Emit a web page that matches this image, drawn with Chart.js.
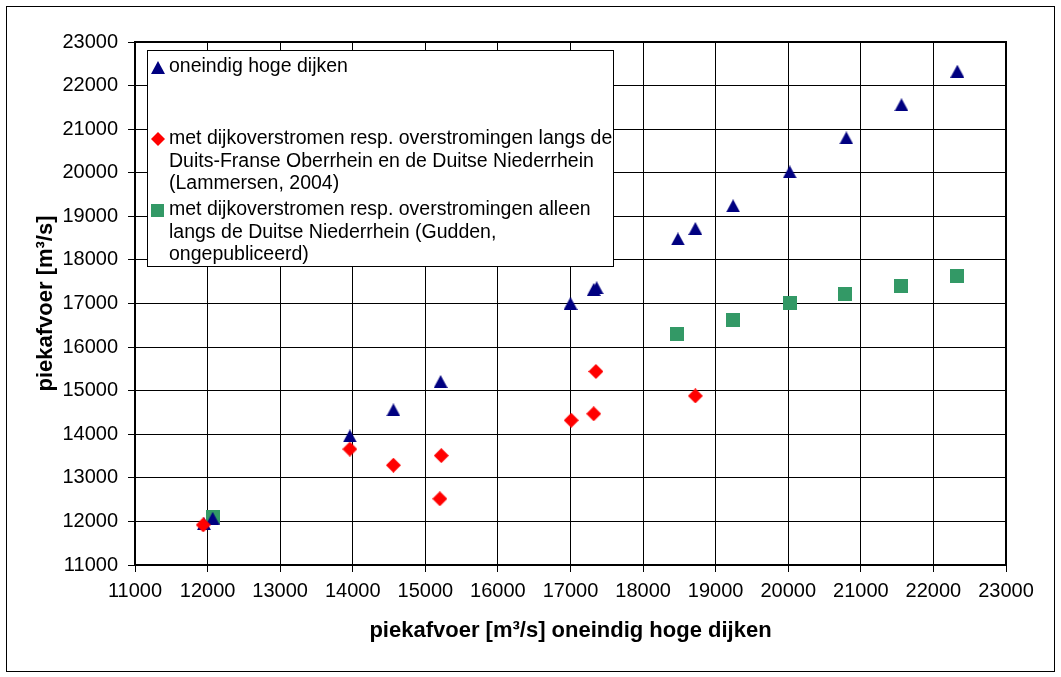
<!DOCTYPE html>
<html>
<head>
<meta charset="utf-8">
<script src="https://cdn.jsdelivr.net/npm/chart.js@4.4.1/dist/chart.umd.min.js"></script>
<style>
    html, body { margin: 0; padding: 0; background: #fff; }
    canvas { display: block; }
</style>
</head>
<body>
<canvas id="chart" width="1061" height="677"></canvas>
<script>
// axis range
const axisMin = 11000;
const axisMax = 23000;
const axisStep = 1000;

// oneindig hoge dijken
const blueX = [11950, 12070, 13960, 14560, 15210, 17000, 17320, 17360, 18480, 18720, 19240, 20020, 20800, 21560, 22330];
const blueY = [11950, 12070, 13960, 14560, 15210, 17000, 17320, 17360, 18480, 18720, 19240, 20020, 20800, 21560, 22330];

// Lammersen, 2004
const redX = [11940, 13960, 14560, 15220, 15200, 17010, 17320, 17350, 18720];
const redY = [11920, 13660, 13290, 13510, 12520, 14320, 14470, 15440, 14880];

// Gudden, ongepubliceerd
const greenX = [12070, 18470, 19240, 20020, 20780, 21560, 22330];
const greenY = [12090, 16300, 16620, 17010, 17220, 17410, 17620];

const blueLabel = ['oneindig hoge dijken'];
const redLabel = [
    'met dijkoverstromen resp. overstromingen langs de',
    'Duits-Franse Oberrhein en de Duitse Niederrhein',
    '(Lammersen, 2004)'
];
const greenLabel = [
    'met dijkoverstromen resp. overstromingen alleen',
    'langs de Duitse Niederrhein (Gudden,',
    'ongepubliceerd)'
];

const xTitle = 'piekafvoer [m³/s] oneindig hoge dijken';
const yTitle = 'piekafvoer [m³/s]';

const FONT = '"Liberation Sans", Arial, sans-serif';
const BLUE = '#000080';
const RED = '#ff0000';
const GREEN = '#339966';

function toPoints(xs, ys) {
    return xs.map((x, i) => ({ x: x, y: ys[i] }));
}

// Excel-like markers, centred on their bounding box
function makeMarker(shape, w, h, color) {
    const c = document.createElement('canvas');
    c.width = w;
    c.height = h;
    const g = c.getContext('2d');
    g.fillStyle = color;
    g.beginPath();
    if (shape === 'triangle') {
        g.moveTo(w / 2, 0);
        g.lineTo(w, h);
        g.lineTo(0, h);
    } else if (shape === 'diamond') {
        g.moveTo(w / 2, 0);
        g.lineTo(w, h / 2);
        g.lineTo(w / 2, h);
        g.lineTo(0, h / 2);
    } else {
        g.rect(0, 0, w, h);
    }
    g.closePath();
    g.fill();
    return c;
}

const triMarker = makeMarker('triangle', 14, 13, BLUE);
const diaMarker = makeMarker('diamond', 15, 15, RED);
const sqMarker = makeMarker('square', 14, 14, GREEN);

const pageFrame = {
    id: 'pageFrame',
    beforeDraw(chart) {
        const ctx = chart.ctx;
        ctx.save();
        ctx.fillStyle = '#fff';
        ctx.fillRect(0, 0, chart.width, chart.height);
        ctx.strokeStyle = '#000';
        ctx.lineWidth = 1;
        ctx.strokeRect(6.5, 6.5, 1048, 665);
        ctx.restore();
    }
};

const plotFrame = {
    id: 'plotFrame',
    beforeDatasetsDraw(chart) {
        const a = chart.chartArea;
        const ctx = chart.ctx;
        ctx.save();
        ctx.strokeStyle = '#000';
        ctx.lineWidth = 2;
        ctx.strokeRect(a.left, a.top, a.right - a.left, a.bottom - a.top);
        ctx.restore();
    }
};

const boxLegend = {
    id: 'boxLegend',
    afterDatasetsDraw(chart) {
        const ctx = chart.ctx;
        ctx.save();
        ctx.fillStyle = '#fff';
        ctx.fillRect(147, 50, 466, 216);
        ctx.strokeStyle = '#000';
        ctx.lineWidth = 1;
        ctx.strokeRect(147.5, 50.5, 466, 216);

        const entries = [
            { marker: makeMarker('triangle', 14, 13, BLUE), lines: blueLabel, y: 67 },
            { marker: makeMarker('diamond', 14, 14, RED), lines: redLabel, y: 139 },
            { marker: makeMarker('square', 13, 13, GREEN), lines: greenLabel, y: 210 }
        ];
        ctx.font = '19.5px ' + FONT;
        ctx.fillStyle = '#000';
        ctx.textBaseline = 'middle';
        ctx.textAlign = 'left';
        entries.forEach(e => {
            ctx.drawImage(e.marker, 151, Math.round(e.y - e.marker.height / 2));
            e.lines.forEach((line, i) => {
                ctx.fillText(line, 169, e.y + i * 22.5);
            });
        });
        ctx.restore();
    }
};

new Chart(document.getElementById('chart'), {
    type: 'scatter',
    data: {
        datasets: [
            { label: blueLabel.join(' '), data: toPoints(blueX, blueY), pointStyle: triMarker, order: 1 },
            { label: redLabel.join(' '), data: toPoints(redX, redY), pointStyle: diaMarker, order: 0 },
            { label: greenLabel.join(' '), data: toPoints(greenX, greenY), pointStyle: sqMarker, order: 2 }
        ]
    },
    options: {
        responsive: false,
        animation: false,
        events: [],
        layout: { padding: { top: 42, right: 55, left: 0, bottom: 0 } },
        plugins: {
            legend: { display: false },
            tooltip: { enabled: false }
        },
        scales: {
            x: {
                type: 'linear',
                min: axisMin,
                max: axisMax,
                ticks: {
                    stepSize: axisStep,
                    color: '#000',
                    font: { family: FONT, size: 20 },
                    padding: 7,
                    maxRotation: 0,
                    autoSkip: false,
                    callback: v => String(v)
                },
                grid: { color: '#000', lineWidth: 1, tickLength: 7 },
                border: { color: '#000', width: 2 },
                title: {
                    display: true,
                    text: xTitle,
                    color: '#000',
                    font: { family: FONT, size: 22, weight: 'bold' },
                    padding: { top: 0, bottom: 33 }
                },
                afterFit: s => { s.height = 112; }
            },
            y: {
                type: 'linear',
                min: axisMin,
                max: axisMax,
                ticks: {
                    stepSize: axisStep,
                    color: '#000',
                    font: { family: FONT, size: 20 },
                    padding: 10,
                    autoSkip: false,
                    callback: v => String(v)
                },
                grid: { color: '#000', lineWidth: 1, tickLength: 7 },
                border: { color: '#000', width: 2 },
                title: {
                    display: true,
                    text: yTitle,
                    color: '#000',
                    font: { family: FONT, size: 22, weight: 'bold' },
                    padding: { top: 33, bottom: 0 }
                },
                afterFit: s => { s.width = 135; }
            }
        }
    },
    plugins: [pageFrame, plotFrame, boxLegend]
});
</script>
</body>
</html>
